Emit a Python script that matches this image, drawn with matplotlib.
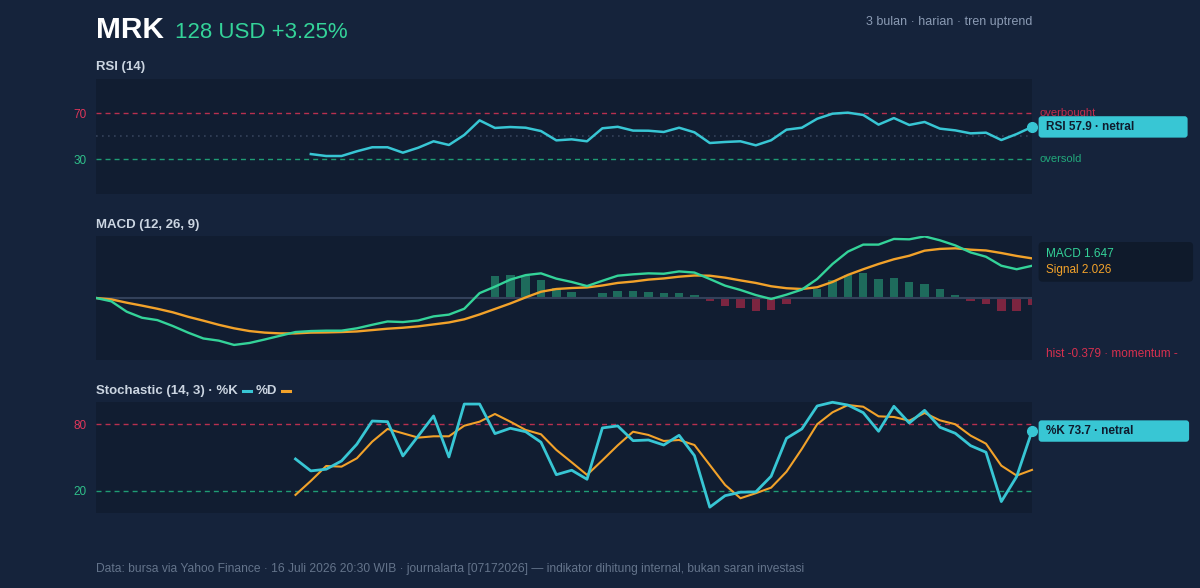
import numpy as np
import matplotlib.pyplot as plt
from matplotlib.patches import FancyBboxPatch
from matplotlib.transforms import IdentityTransform
from matplotlib.lines import Line2D

W, H = 1200, 588

ticker = "MRK"
price_text = "128 USD +3.25%"
subtitle = "3 bulan · harian · tren uptrend"
footer = ("Data: bursa via Yahoo Finance · 16 Juli 2026 20:30 WIB · journalarta [07172026] "
          "— indikator dihitung internal, bukan saran investasi")

# MACD (12, 26, 9) - 62 daily sessions
macd = [0.0, -0.17, -0.70, -1.01, -1.13, -1.43, -1.77, -2.07, -2.18, -2.40,
        -2.30, -2.12, -1.93, -1.74, -1.69, -1.67, -1.67, -1.55, -1.37, -1.20,
        -1.23, -1.15, -0.94, -0.85, -0.55, 0.25, 0.58, 0.94, 1.17, 1.26,
        0.99, 0.82, 0.61, 0.88, 1.14, 1.21, 1.26, 1.24, 1.36, 1.30,
        0.97, 0.63, 0.41, 0.15, -0.05, 0.17, 0.43, 0.97, 1.74, 2.37,
        2.73, 2.73, 3.02, 3.00, 3.15, 2.95, 2.69, 2.33, 2.11, 1.65,
        1.47, 1.647]
signal = [0.0, -0.07, -0.24, -0.39, -0.55, -0.73, -0.96, -1.16, -1.37, -1.55,
          -1.69, -1.77, -1.81, -1.81, -1.77, -1.76, -1.74, -1.71, -1.64, -1.57,
          -1.52, -1.45, -1.35, -1.25, -1.09, -0.84, -0.56, -0.28, 0.03, 0.32,
          0.46, 0.51, 0.54, 0.64, 0.77, 0.84, 0.94, 1.00, 1.09, 1.15,
          1.14, 1.04, 0.90, 0.77, 0.60, 0.50, 0.46, 0.55, 0.82, 1.18,
          1.47, 1.74, 1.98, 2.16, 2.42, 2.51, 2.54, 2.47, 2.43, 2.30,
          2.15, 2.026]
hist_start = 26
hist = [1.14, 1.18, 1.14, 0.94, 0.51, 0.29, 0.07,
        0.24, 0.375, 0.375, 0.32, 0.24, 0.27, 0.15,
        -0.17, -0.41, -0.49, -0.65, -0.61, -0.31,
        0.02, 0.44, 0.92, 1.19, 1.26, 0.99, 1.04, 0.84, 0.73, 0.44, 0.15,
        -0.14, -0.32, -0.65, -0.68, -0.379]

# RSI (14)
rsi_start = 14
rsi = [34.3, 32.6, 32.6, 36.7, 40.2, 40.2, 35.5, 39.8, 45.4, 42.2,
       50.9, 63.6, 57.0, 57.8, 57.2, 54.3, 46.2, 47.1, 45.4, 56.7,
       58.0, 54.7, 54.6, 53.5, 57.2, 53.2, 43.9, 44.8, 45.4, 41.9,
       46.3, 55.5, 57.2, 65.0, 69.4, 70.3, 68.3, 59.9, 65.6, 59.6,
       62.2, 56.4, 54.9, 52.3, 52.9, 46.5, 51.7, 57.9]

# Stochastic (14, 3)
stoch_start = 13
stoch_k = [48.7, 38.0, 39.5, 46.9, 61.9, 82.7, 82.1, 51.4, 69.3, 87.2,
           50.5, 97.9, 97.9, 71.4, 76.2, 73.1, 63.7, 34.6, 38.6, 30.5,
           76.5, 78.3, 65.1, 65.7, 61.2, 69.9, 51.7, 5.5, 15.8, 18.9,
           19.2, 33.2, 67.2, 75.6, 96.2, 99.5, 97.0, 90.2, 73.5, 95.9,
           80.9, 92.3, 77.1, 71.7, 60.6, 54.7, 10.5, 32.9, 73.7]
stoch_d = [16.5, 29.0, 42.4, 41.8, 49.3, 64.2, 75.6, 71.7, 67.8, 69.0,
           69.0, 78.5, 82.1, 89.0, 82.1, 74.7, 70.8, 56.8, 45.7, 34.4,
           47.5, 60.9, 73.1, 70.2, 64.8, 65.7, 61.2, 43.3, 25.4, 13.5,
           18.0, 23.0, 37.3, 57.7, 79.8, 90.5, 97.0, 95.5, 86.9, 86.3,
           83.0, 89.9, 83.3, 79.8, 69.6, 62.4, 42.7, 33.8, 38.9]

BG = "#15233b"
PANEL = "#111d31"
CYAN = "#38c6d4"
GREEN = "#34d399"
ORANGE = "#f2a22a"
RED_LINE = "#b8304f"
GREEN_LINE = "#1f9c74"
RED_TXT = "#e0365a"
GREEN_TXT = "#2fbf8a"
LABEL = "#cbd5e1"
MUTED = "#8b9bb4"
DASH = (0, (3.6, 2.9))

plt.rcParams['font.family'] = ['Liberation Sans', 'DejaVu Sans']

n = len(macd)
fig = plt.figure(figsize=(W / 100, H / 100), dpi=100, facecolor=BG)


def rect(top, bottom, left=96, right=1032):
    return [left / W, 1 - bottom / H, (right - left) / W, (bottom - top) / H]


def fx(x):
    return x / W


def fy(y):
    return 1 - y / H


def style(ax, ylim, ticks, colors):
    ax.set_facecolor(PANEL)
    for s in ax.spines.values():
        s.set_visible(False)
    ax.set_xlim(0, n - 1)
    ax.set_ylim(*ylim)
    ax.set_xticks([])
    ax.set_yticks(ticks)
    ax.set_yticklabels([str(t) for t in ticks])
    ax.tick_params(axis='y', length=0, pad=7, labelsize=8.5)
    for lab, c in zip(ax.get_yticklabels(), colors):
        lab.set_color(c)


# RSI panel
ax_rsi = fig.add_axes(rect(78.5, 193.5))
style(ax_rsi, (0, 100), [30, 70], [GREEN_TXT, RED_TXT])
ax_rsi.axhline(70, color=RED_LINE, lw=1, ls=DASH)
ax_rsi.axhline(30, color=GREEN_LINE, lw=1, ls=DASH)
ax_rsi.axhline(50, color="#34425a", lw=1.2, ls=(0, (1, 2.6)))
x_rsi = np.arange(rsi_start, n)
ax_rsi.plot(x_rsi, rsi, color=CYAN, lw=1.8, clip_on=False, zorder=3)
ax_rsi.plot(x_rsi[-1], rsi[-1], 'o', color=CYAN, ms=7, clip_on=False, zorder=4)

# MACD panel
ax_macd = fig.add_axes(rect(236, 360))
style(ax_macd, (-3.17, 3.17), [], [])
x_hist = np.arange(hist_start, n)
bar_colors = ["#1e6b5c" if v >= 0 else "#7b2540" for v in hist]
ax_macd.bar(x_hist, hist, width=0.55, color=bar_colors, zorder=1)
ax_macd.axhline(0, color="#33415a", lw=1.5, zorder=2)
ax_macd.plot(np.arange(n), signal, color=ORANGE, lw=1.7, zorder=3)
ax_macd.plot(np.arange(n), macd, color=GREEN, lw=1.7, zorder=4)

# Stochastic panel
ax_st = fig.add_axes(rect(401.7, 513.3))
style(ax_st, (0, 100), [20, 80], [GREEN_TXT, RED_TXT])
ax_st.axhline(80, color=RED_LINE, lw=1, ls=DASH)
ax_st.axhline(20, color=GREEN_LINE, lw=1, ls=DASH)
x_st = np.arange(stoch_start, n)
ax_st.plot(x_st, stoch_d, color=ORANGE, lw=1.5, clip_on=False, zorder=3)
ax_st.plot(x_st, stoch_k, color=CYAN, lw=2.0, clip_on=False, zorder=4)
ax_st.plot(x_st[-1], stoch_k[-1], 'o', color=CYAN, ms=7, clip_on=False, zorder=5)

# header
fig.text(fx(96), fy(37.5), ticker, fontsize=21.5, weight='bold', color='white', va='baseline')
fig.text(fx(175), fy(37.5), price_text, fontsize=16, color=GREEN, va='baseline')
fig.text(fx(1032), fy(22), subtitle, ha='right', va='center', fontsize=9, color=MUTED)

fig.text(fx(96), fy(67), "RSI (14)", fontsize=9.5, weight='bold', color=LABEL, va='center')
fig.text(fx(96), fy(225), "MACD (12, 26, 9)", fontsize=9.5, weight='bold', color=LABEL, va='center')

renderer = fig.canvas.get_renderer()
t1 = fig.text(fx(96), fy(391), "Stochastic (14, 3) · %K", fontsize=9.5, weight='bold',
              color=LABEL, va='center')
x0 = t1.get_window_extent(renderer).x1
yd = H - 391
fig.add_artist(Line2D([x0 + 5, x0 + 13], [yd, yd], color=CYAN, lw=2.2,
                      transform=IdentityTransform()))
t2 = fig.text((x0 + 17.5) / W, fy(391), "%D", fontsize=9.5, weight='bold', color=LABEL, va='center')
x1 = t2.get_window_extent(renderer).x1
fig.add_artist(Line2D([x1 + 5, x1 + 13], [yd, yd], color=ORANGE, lw=2.2,
                      transform=IdentityTransform()))

# right side annotations
fig.text(fx(1040), fy(113), "overbought", fontsize=8, color="#c22d4d", va='center', zorder=2)
fig.text(fx(1040), fy(159), "oversold", fontsize=8, color="#22a97b", va='center', zorder=2)


def value_box(ax, xv, yv, text, width):
    yc = ax.transData.transform((xv, yv))[1]
    box = FancyBboxPatch((1038.6, yc - 10.7), width, 21.4,
                         boxstyle="round,pad=0,rounding_size=3",
                         fc=CYAN, ec='none', transform=IdentityTransform(), zorder=5)
    fig.add_artist(box)
    fig.text(1046.5 / W, yc / H, text, fontsize=8.5, weight='bold', color="#0f1b2d",
             va='center', zorder=6)


value_box(ax_rsi, n - 1, rsi[-1], f"RSI {rsi[-1]:.1f} · netral", 149)
value_box(ax_st, n - 1, stoch_k[-1], f"%K {stoch_k[-1]:.1f} · netral", 150.5)

legend_box = FancyBboxPatch((1038.6, H - 281.7), 154.5, 39.7,
                            boxstyle="round,pad=0,rounding_size=4",
                            fc="#0f1a2b", ec='none', transform=IdentityTransform(), zorder=5)
fig.add_artist(legend_box)
fig.text(fx(1046.5), fy(254), f"MACD {macd[-1]:.3f}", fontsize=8.5, color=GREEN, va='center', zorder=6)
fig.text(fx(1046.5), fy(270), f"Signal {signal[-1]:.3f}", fontsize=8.5, color=ORANGE, va='center', zorder=6)
fig.text(fx(1046.5), fy(354), f"hist {hist[-1]:.3f} · momentum -", fontsize=8.5,
         color="#d8304f", va='center')

fig.text(fx(96), fy(569), footer, fontsize=8.62, color="#64748b", va='center')

fig.savefig("out.png", dpi=100, facecolor=BG)
